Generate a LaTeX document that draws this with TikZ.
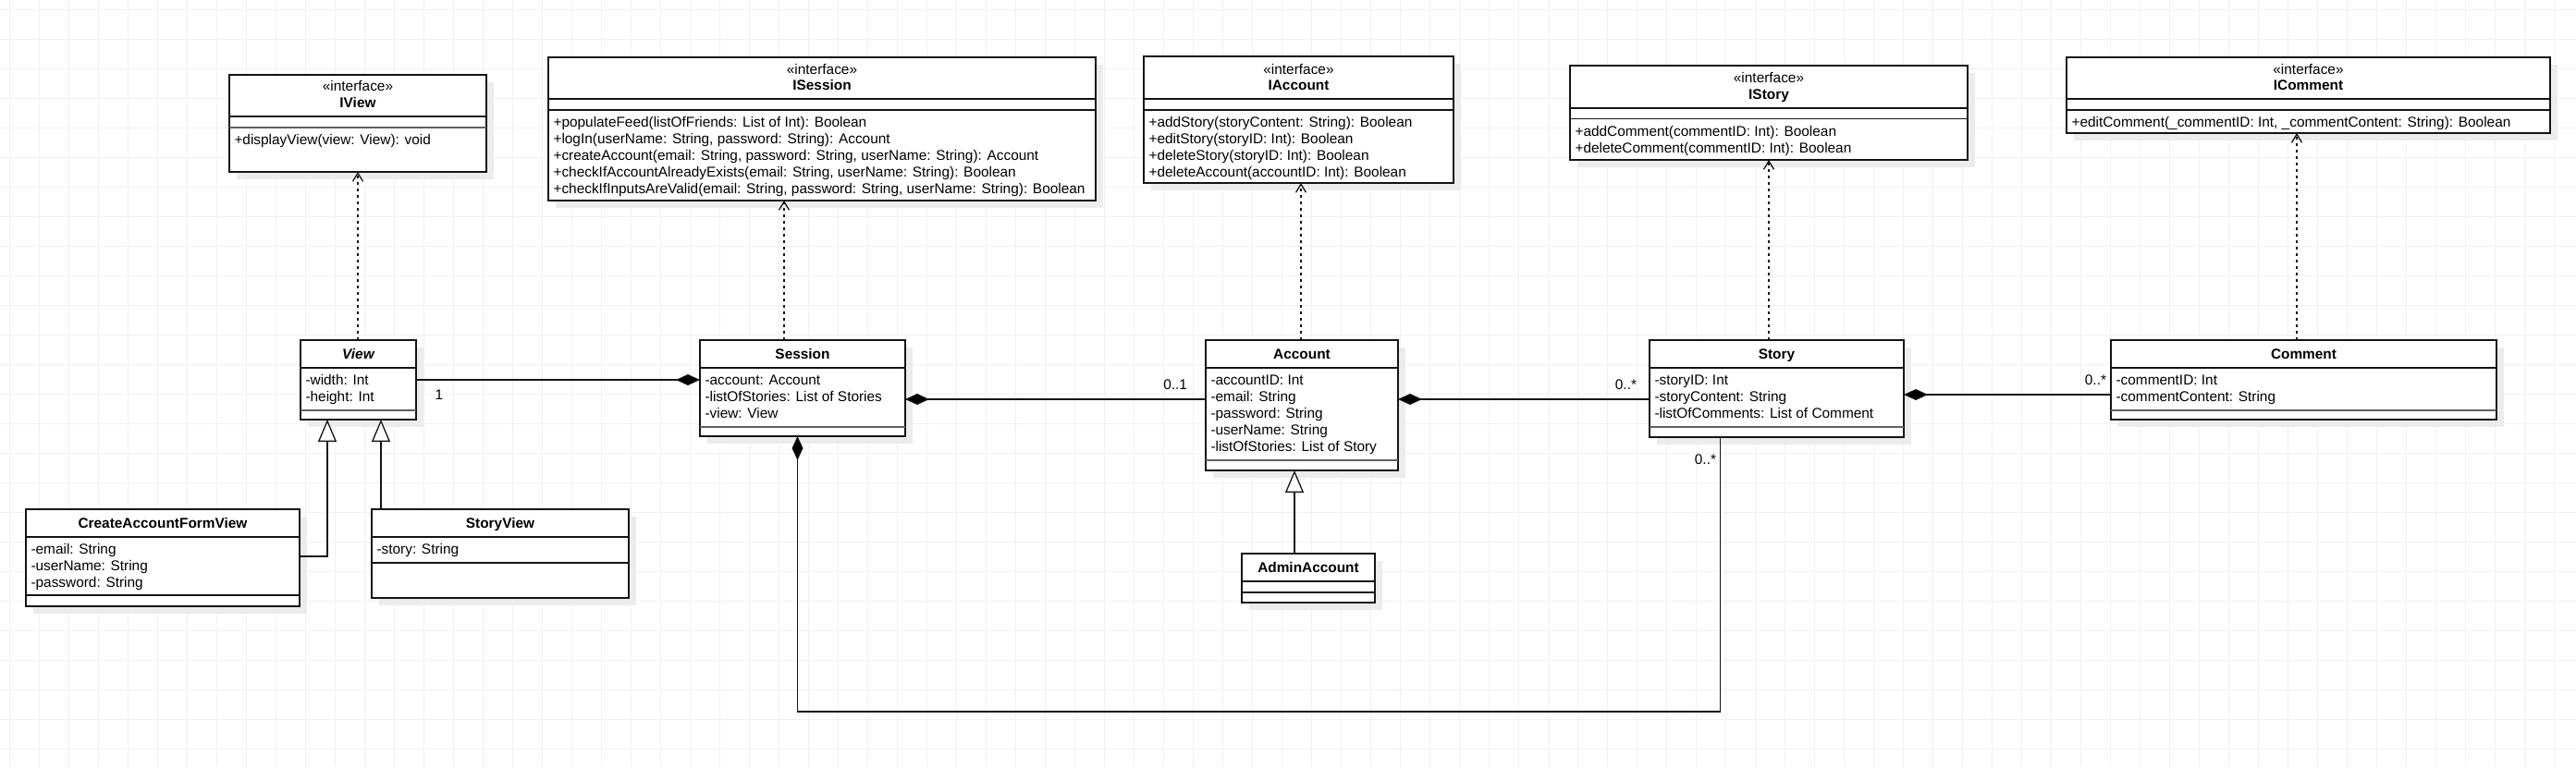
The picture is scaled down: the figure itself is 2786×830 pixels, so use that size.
\documentclass[tikz,border=0pt]{standalone}
\usepackage{fontspec}
\setmainfont{Liberation Sans}
\usetikzlibrary{arrows.meta}
\definecolor{gridc}{RGB}{241,241,241}
\definecolor{shadowc}{RGB}{236,236,236}
\definecolor{sepc}{RGB}{96,96,96}
\definecolor{linec}{RGB}{20,20,20}
\tikzset{
  box/.style={draw=linec, line width=1.5pt, fill=white, inner sep=0pt, outer sep=0pt},
  txt/.style={inner sep=0pt, outer sep=0pt, font=\fontsize{15.4}{18}\selectfont},
  sepa/.style={draw=linec, line width=1.5pt},
  sepb/.style={draw=sepc, line width=2pt},
  gridline/.style={draw=gridc, line width=0.8pt},
  comp/.style={draw=linec, line width=1.3pt, -{Diamond[length=26pt,width=12pt,fill=black]}},
  gen/.style={draw=linec, line width=1.3pt, -{Triangle[open,length=24pt,width=20pt,fill=white]}},
  real/.style={draw=linec, line width=1.3pt, dash pattern=on 3.5pt off 3.5pt, -{Straight Barb[length=9pt,width=11pt]}},
}
\newcommand\ubox[5]{%
  \fill[shadowc] (#2+8,#3+8) rectangle (#2+#4+8,#3+#5+8);
  \node[box, anchor=north west, minimum width=#4pt, minimum height=#5pt] (#1) at (#2,#3) {};}
\newcommand\tl[4]{\node[txt, anchor=base west] (#1) at (#2+5.5,#3+5.5) {#4};}
\newcommand\tc[4]{\node[txt, anchor=base] (#1) at (#2,#3+5.5) {#4};}
\newcommand\usep[4]{\draw[#1] (#2,#4) -- (#3,#4);}
\begin{document}
\begin{tikzpicture}[x=1pt,y=-1pt]
\useasboundingbox (0,0) rectangle (2786,830);
\fill[white] (0,0) rectangle (2786,830);
\foreach \gx in {10,42,...,2786} {\draw[gridline] (\gx,0) -- (\gx,830);}
\foreach \gy in {10,42,...,830} {\draw[gridline] (0,\gy) -- (2786,\gy);}

% ---------- interfaces ----------
\ubox{iview}{248}{81}{278}{105}
\usep{sepa}{248}{526}{126}\usep{sepb}{248}{526}{138}
\tc{iview-s}{387}{93}{«interface»}
\tc{iview-n}{387}{111}{\bfseries IView}
\tl{iview-m1}{248}{151}{+displayView(view: View): void}

\ubox{isession}{593}{62}{592}{155}
\usep{sepa}{593}{1185}{107}\usep{sepa}{593}{1185}{119}
\tc{isession-s}{889}{74.5}{«interface»}
\tc{isession-n}{889}{92.3}{\bfseries ISession}
\tl{isession-m1}{593}{132}{+populateFeed(listOfFriends: List of Int): Boolean}
\tl{isession-m2}{593}{150}{+logIn(userName: String, password: String): Account}
\tl{isession-m3}{593}{168}{+createAccount(email: String, password: String, userName: String): Account}
\tl{isession-m4}{593}{186}{+checkIfAccountAlreadyExists(email: String, userName: String): Boolean}
\tl{isession-m5}{593}{204}{+checkIfInputsAreValid(email: String, password: String, userName: String): Boolean}

\ubox{iaccount}{1237}{61}{335}{137}
\usep{sepa}{1237}{1572}{107}\usep{sepa}{1237}{1572}{119}
\tc{iaccount-s}{1404.5}{74.5}{«interface»}
\tc{iaccount-n}{1404.5}{92.3}{\bfseries IAccount}
\tl{iaccount-m1}{1237}{132}{+addStory(storyContent: String): Boolean}
\tl{iaccount-m2}{1237}{150}{+editStory(storyID: Int): Boolean}
\tl{iaccount-m3}{1237}{168}{+deleteStory(storyID: Int): Boolean}
\tl{iaccount-m4}{1237}{186}{+deleteAccount(accountID: Int): Boolean}

\ubox{istory}{1698}{71}{430}{102}
\usep{sepa}{1698}{2128}{117}\usep{sepa}{1698}{2128}{128.7}
\tc{istory-s}{1913}{84.3}{«interface»}
\tc{istory-n}{1913}{102.3}{\bfseries IStory}
\tl{istory-m1}{1698}{142}{+addComment(commentID: Int): Boolean}
\tl{istory-m2}{1698}{160}{+deleteComment(commentID: Int): Boolean}

\ubox{icomment}{2235}{62}{523}{82}
\usep{sepa}{2235}{2758}{107}\usep{sepa}{2235}{2758}{119}
\tc{icomment-s}{2496.5}{74.5}{«interface»}
\tc{icomment-n}{2496.5}{92.3}{\bfseries IComment}
\tl{icomment-m1}{2235}{132}{+editComment(\_commentID: Int, \_commentContent: String): Boolean}

% ---------- classes ----------
\ubox{view}{325}{368}{125}{86}
\usep{sepa}{325}{450}{398}\usep{sepb}{325}{450}{444}
\tc{view-n}{387.5}{383}{\bfseries\itshape View}
\tl{view-a1}{325}{411}{-width: Int}
\tl{view-a2}{325}{429}{-height: Int}

\ubox{session}{757}{368}{222}{104}
\usep{sepa}{757}{979}{398}\usep{sepb}{757}{979}{462}
\tc{session-n}{868}{383}{\bfseries Session}
\tl{session-a1}{757}{411}{-account: Account}
\tl{session-a2}{757}{429}{-listOfStories: List of Stories}
\tl{session-a3}{757}{447}{-view: View}

\ubox{account}{1304}{368}{208}{141}
\usep{sepa}{1304}{1512}{398}\usep{sepb}{1304}{1512}{498}
\tc{account-n}{1408}{383}{\bfseries Account}
\tl{account-a1}{1304}{411}{-accountID: Int}
\tl{account-a2}{1304}{429}{-email: String}
\tl{account-a3}{1304}{447}{-password: String}
\tl{account-a4}{1304}{465}{-userName: String}
\tl{account-a5}{1304}{483}{-listOfStories: List of Story}

\ubox{story}{1784}{368}{275}{105}
\usep{sepa}{1784}{2059}{398}\usep{sepb}{1784}{2059}{462}
\tc{story-n}{1921.5}{383}{\bfseries Story}
\tl{story-a1}{1784}{411}{-storyID: Int}
\tl{story-a2}{1784}{429}{-storyContent: String}
\tl{story-a3}{1784}{447}{-listOfComments: List of Comment}

\ubox{comment}{2283}{368}{417}{86}
\usep{sepa}{2283}{2700}{398}\usep{sepb}{2283}{2700}{444}
\tc{comment-n}{2491.5}{383}{\bfseries Comment}
\tl{comment-a1}{2283}{411}{-commentID: Int}
\tl{comment-a2}{2283}{429}{-commentContent: String}

\ubox{cafv}{28}{551}{296}{105}
\usep{sepa}{28}{324}{581}\usep{sepa}{28}{324}{644}
\tc{cafv-n}{176}{566}{\bfseries CreateAccountFormView}
\tl{cafv-a1}{28}{594}{-email: String}
\tl{cafv-a2}{28}{612}{-userName: String}
\tl{cafv-a3}{28}{630}{-password: String}

\ubox{storyview}{402}{551}{278}{96}
\usep{sepa}{402}{680}{581}\usep{sepa}{402}{680}{609}
\tc{storyview-n}{541}{566}{\bfseries StoryView}
\tl{storyview-a1}{402}{594}{-story: String}

\ubox{admin}{1343}{599}{144}{53}
\usep{sepa}{1343}{1487}{629}\usep{sepa}{1343}{1487}{641}
\tc{admin-n}{1415}{613.5}{\bfseries AdminAccount}

% ---------- realizations ----------
\coordinate (r1) at ([xshift=-0.5pt]view.north);
\draw[real] (r1) -- (r1 |- iview.south);
\coordinate (r2) at ([xshift=-20pt]session.north);
\draw[real] (r2) -- (r2 |- isession.south);
\coordinate (r3) at ([xshift=-1pt]account.north);
\draw[real] (r3) -- (r3 |- iaccount.south);
\coordinate (r4) at ([xshift=-8.5pt]story.north);
\draw[real] (r4) -- (r4 |- istory.south);
\coordinate (r5) at ([xshift=-7.5pt]comment.north);
\draw[real] (r5) -- (r5 |- icomment.south);

% ---------- compositions ----------
\draw[comp] ([yshift=-43pt]view.north east) -- ([yshift=-43pt]session.north west);
\draw[comp] ([yshift=-64pt]account.north west) -- ([yshift=-64pt]session.north east);
\draw[comp] ([yshift=-64pt]story.north west) -- ([yshift=-64pt]account.north east);
\draw[comp] ([yshift=-59pt]comment.north west) -- ([yshift=-59pt]story.north east);
\coordinate (sb) at ([xshift=-61pt]story.south);
\coordinate (ss) at ([xshift=-5.5pt]session.south);
\draw[comp] (sb) -- ++(0,297) -| (ss);

% ---------- generalizations ----------
\coordinate (g1) at ([yshift=-51pt]cafv.north east);
\coordinate (g1v) at ([xshift=-33.5pt]view.south);
\draw[gen] (g1) -| (g1v);
\coordinate (g2) at ([xshift=-129pt]storyview.north);
\draw[gen] (g2) -- (g2 |- view.south);
\coordinate (g3) at ([xshift=-15pt]admin.north);
\draw[gen] (g3) -- (g3 |- account.south);

% ---------- multiplicities ----------
\node[txt, anchor=base] (m1) at (475,432.5) {1};
\node[txt, anchor=base east] (m2) at (1284,421.5) {0..1};
\node[txt, anchor=base east] (m3) at (1770,421.5) {0..*};
\node[txt, anchor=base east] (m4) at (2278,416.5) {0..*};
\node[txt, anchor=base east] (m5) at (1856,502.5) {0..*};
\end{tikzpicture}
\end{document}
